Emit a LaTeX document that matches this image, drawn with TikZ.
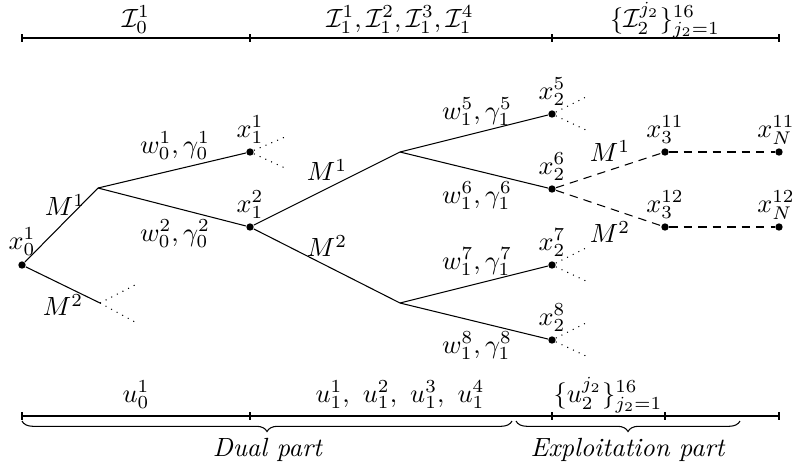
\documentclass[tikz,border=0pt]{standalone}
\usetikzlibrary{decorations.pathreplacing}
\begin{document}
\begin{tikzpicture}[x=0.38pt,y=-0.38pt,
  dot/.style={circle,fill,inner sep=0pt,minimum size=2.8pt},
  lab/.style={inner sep=1pt},
  stub/.style={dotted},
  dsh/.style={dash pattern=on 3.2pt off 2.3pt},
  brc/.style={decorate,decoration={brace,mirror,amplitude=4pt}}]
\useasboundingbox (0,0) rectangle (793,470);
% top axis
\coordinate (t0) at (22,38);
\coordinate (t1) at (250,38);
\coordinate (t2) at (552,38);
\coordinate (t3) at (779,38);
\draw (t0) -- (t3);
\foreach \c in {t0,t1,t2,t3} \draw (\c) ++(0,-4) -- ++(0,8);
\node[lab] (T0) at (136,20) {$\mathcal{I}_0^1$};
\node[lab] (T1) at (400,20) {$\mathcal{I}_1^1,\mathcal{I}_1^2,\mathcal{I}_1^3,\mathcal{I}_1^4$};
\node[lab] (T2) at (665,20) {$\{\mathcal{I}_2^{j_2}\}_{j_2=1}^{16}$};
% tree nodes
\node[dot] (x01) at (22,265) {};
\coordinate (A) at (98,188);
\coordinate (A2) at (100,303);
\node[dot] (x11) at (250,152) {};
\node[dot] (x12) at (250,227) {};
\coordinate (B) at (400,152);
\coordinate (C) at (400,303);
\node[dot] (x25) at (552,114) {};
\node[dot] (x26) at (552,189) {};
\node[dot] (x27) at (552,265) {};
\node[dot] (x28) at (552,340) {};
\node[dot] (x311) at (665,152) {};
\node[dot] (x312) at (665,227) {};
\node[dot] (xN11) at (779,152) {};
\node[dot] (xN12) at (779,227) {};
% edges
\draw (x01) -- (A);
\draw (x01) -- (A2);
\draw (A) -- (x11);
\draw (A) -- (x12);
\draw (x12) -- (B);
\draw (x12) -- (C);
\draw (B) -- (x25);
\draw (B) -- (x26);
\draw (C) -- (x27);
\draw (C) -- (x28);
\draw[dsh] (x26) -- (x311);
\draw[dsh] (x26) -- (x312);
\draw[dsh] (x311) -- (xN11);
\draw[dsh] (x312) -- (xN12);
% dotted stubs
\coordinate (sA2a) at (135,285); \coordinate (sA2b) at (135,322);
\draw[stub] (A2) -- (sA2a); \draw[stub] (A2) -- (sA2b);
\coordinate (s11a) at (285,137); \coordinate (s11b) at (285,168);
\draw[stub] (x11) -- (s11a); \draw[stub] (x11) -- (s11b);
\coordinate (s25a) at (586,97); \coordinate (s25b) at (586,130);
\draw[stub] (x25) -- (s25a); \draw[stub] (x25) -- (s25b);
\coordinate (s27a) at (586,248); \coordinate (s27b) at (586,281);
\draw[stub] (x27) -- (s27a); \draw[stub] (x27) -- (s27b);
\coordinate (s28a) at (586,323); \coordinate (s28b) at (586,356);
\draw[stub] (x28) -- (s28a); \draw[stub] (x28) -- (s28b);
% node labels
\node[lab] (lx01) at (22,242) {$x_0^1$};
\node[lab] (lx11) at (250,130) {$x_1^1$};
\node[lab] (lx12) at (250,205) {$x_1^2$};
\node[lab] (lx25) at (552,92) {$x_2^5$};
\node[lab] (lx26) at (552,167) {$x_2^6$};
\node[lab] (lx27) at (552,243) {$x_2^7$};
\node[lab] (lx28) at (552,318) {$x_2^8$};
\node[lab] (lx311) at (665,130) {$x_3^{11}$};
\node[lab] (lx312) at (665,205) {$x_3^{12}$};
\node[lab] (lxN11) at (776,130) {$x_N^{11}$};
\node[lab] (lxN12) at (776,205) {$x_N^{12}$};
% edge labels
\node[lab] (m1a) at (65,205) {$M^1$};
\node[lab] (m2a) at (63,305) {$M^2$};
\node[lab] (w01) at (175,146) {$w_0^1,\gamma_0^1$};
\node[lab] (w02) at (175,234) {$w_0^2,\gamma_0^2$};
\node[lab] (m1b) at (327,170) {$M^1$};
\node[lab] (m2b) at (327,246) {$M^2$};
\node[lab] (w15) at (477,112) {$w_1^5,\gamma_1^5$};
\node[lab] (w16) at (477,196) {$w_1^6,\gamma_1^6$};
\node[lab] (w17) at (477,262) {$w_1^7,\gamma_1^7$};
\node[lab] (w18) at (477,346) {$w_1^8,\gamma_1^8$};
\node[lab] (m1c) at (610,151) {$M^1$};
\node[lab] (m2c) at (610,232) {$M^2$};
% bottom axis
\coordinate (b0) at (22,416);
\coordinate (b1) at (250,416);
\coordinate (b2) at (552,416);
\coordinate (b3) at (665,416);
\coordinate (b4) at (779,416);
\draw (b0) -- (b4);
\foreach \c in {b0,b1,b2,b3,b4} \draw (\c) ++(0,-4) -- ++(0,8);
\node[lab] (U0) at (136,395) {$u_0^1$};
\node[lab] (U1) at (400,395) {$u_1^1,\ u_1^2,\ u_1^3,\ u_1^4$};
\node[lab] (U2) at (608,395) {$\{u_2^{j_2}\}_{j_2=1}^{16}$};
% braces
\coordinate (d0) at (22,421);
\coordinate (d1) at (512,421);
\coordinate (e0) at (516,421);
\coordinate (e1) at (740,421);
\draw[brc] (d0) -- (d1);
\draw[brc] (e0) -- (e1);
\node[lab] (D) at (268,450) {\textit{Dual part}};
\node[lab] (E) at (628,450) {\textit{Exploitation part}};
\end{tikzpicture}
\end{document}
